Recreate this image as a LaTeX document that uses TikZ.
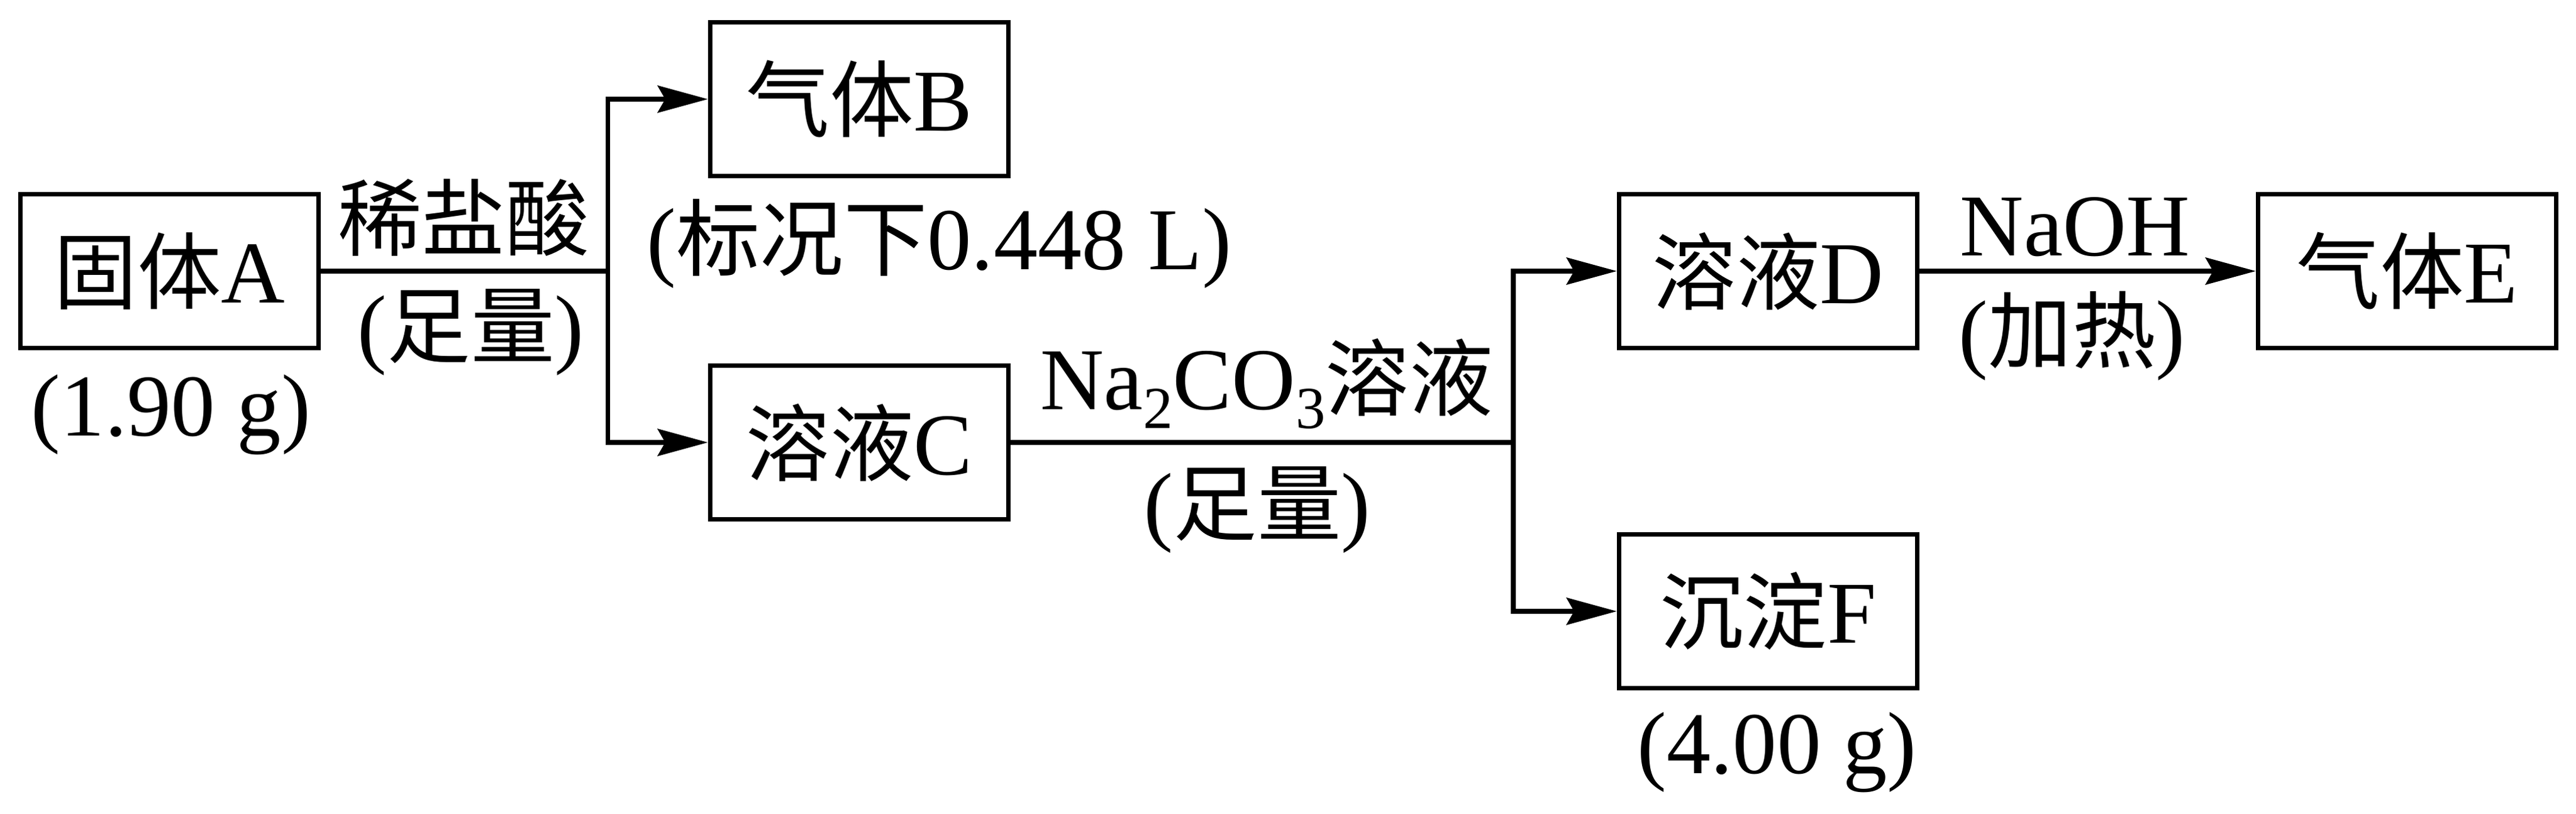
\documentclass[tikz,border=0pt]{standalone}
\usepackage{fontspec}
\setmainfont{Liberation Serif}
\newfontfamily\cjk[Scale=0.95]{Noto Sans CJK SC}
\usetikzlibrary{arrows.meta}
\newcommand{\chemsub}[1]{\raisebox{-0.21em}{\fontsize{27}{30}\selectfont #1}}

\begin{document}
\begin{tikzpicture}[
  every node/.style={font=\fontsize{40}{44}\selectfont, inner sep=0pt},
  box/.style={draw, line width=2.1pt, minimum width=4.75cm, minimum height=2.45cm},
  flow/.style={line width=2.1pt},
  arr/.style={flow, -{Stealth[length=0.8cm, width=0.43cm, inset=0.12cm]}}
]
\useasboundingbox (0,0) rectangle (41.04,12.97);

\node[box] (A) at (2.70,8.65) {{\cjk 固体}A};
\node[box] (B) at (13.69,11.39) {{\cjk 气体}B};
\node[box] (C) at (13.69,5.92) {{\cjk 溶液}C};
\node[box] (D) at (28.17,8.65) {{\cjk 溶液}D};
\node[box] (E) at (38.35,8.65) {{\cjk 气体}E};
\node[box] (F) at (28.17,3.23) {{\cjk 沉淀}F};

\coordinate (split1) at (9.685,8.65);
\coordinate (split2) at (24.11,5.92);

% reagents on the lines
\node (hcl) at (7.385,9.50) {\cjk 稀盐酸};
\node[anchor=base] (hclamt) at (7.50,7.28) {({\cjk 足量})};
\node[anchor=base] (naco) at (20.18,6.44) {Na\chemsub{2}CO\chemsub{3}{\cjk 溶液}};
\node[anchor=base] (nacoamt) at (20.03,4.45) {({\cjk 足量})};
\node[anchor=base] (naoh) at (33.06,8.89) {NaOH};
\node[anchor=base] (heat) at (33.01,7.20) {({\cjk 加热})};

% amounts
\node[anchor=base] (massA) at (2.725,6.02) {(1.90 g)};
\node[anchor=base] (volB) at (14.96,8.67) {({\cjk 标况下}0.448 L)};
\node[anchor=base] (massF) at (28.31,0.64) {(4.00 g)};

\foreach \from/\to in {A/split1, C/split2}
  \draw[flow] (\from) -- (\to);

\foreach \from/\to in {split1/B, split1/C, split2/D, split2/F}
  \draw[arr] (\from) |- (\to);

\draw[arr] (D) -- (E);

\end{tikzpicture}
\end{document}
